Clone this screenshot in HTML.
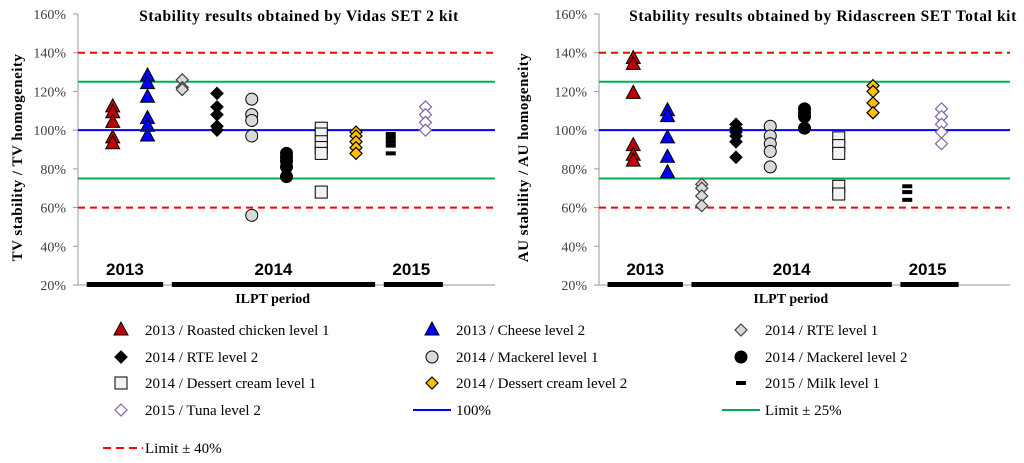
<!DOCTYPE html>
<html><head><meta charset="utf-8"><style>
body{margin:0;background:#fff;width:1024px;height:463px;overflow:hidden}
svg{display:block;font-family:"Liberation Serif",serif}
</style></head><body>
<svg id="svg" width="1024" height="463" viewBox="0 0 1024 463"></svg>
<script>
const categories=["2013 / Roasted chicken level 1","2013 / Cheese level 2","2014 / RTE level 1","2014 / RTE level 2","2014 / Mackerel level 1","2014 / Mackerel level 2","2014 / Dessert cream level 1","2014 / Dessert cream level 2","2015 / Milk level 1","2015 / Tuna level 2"];
const vidasValues=[[112,109,104,96,93],[128,124,117,106,102,97],[126,122,121],[119,112,108,102,100],[116,108,105,97,56],[88,86,84,81,76],[101,98,94,91,88,68],[99,97,94,91,88],[98,96,94,92,88],[112,108,104,100]];
const ridaValues=[[137,134,119,92,87,84],[110,107,96,86,78],[72,70,66,61],[103,101,99,97,94,86],[102,97,93,89,81],[111,109,107,101],[96,92,88,71,67],[123,120,114,109],[71,68,64],[111,107,103,99,93]];
const yTicks=[20,40,60,80,100,120,140,160];
const refLines=[{v:140,name:"limit-40-upper"},{v:60,name:"limit-40-lower"},{v:125,name:"limit-25-upper"},{v:75,name:"limit-25-lower"},{v:100,name:"line-100"}];
const NS="http://www.w3.org/2000/svg";
const svg=document.getElementById('svg');
function mk(tag,attrs,parent,text){const e=document.createElementNS(NS,tag);for(const k in attrs)e.setAttribute(k,attrs[k]);if(text!==undefined)e.textContent=text;(parent||svg).appendChild(e);return e;}
const styles=["triR","triB","diaG","diaK","cirG","cirK","sqW","diaY","dash","diaP"];
function marker(g,st,x,y){
 if(st==="triR"||st==="triB"){return mk('polygon',{points:`${x},${y-8} ${x-7},${y+5} ${x+7},${y+5}`,fill:st==="triR"?"#c00000":"#0000ff",stroke:"#000","stroke-width":1},g);}
 if(st==="cirG"||st==="cirK"){return mk('circle',{cx:x,cy:y,r:6,fill:st==="cirG"?"#d9d9d9":"#000",stroke:"#000","stroke-width":1},g);}
 if(st==="sqW"){return mk('rect',{x:x-6,y:y-6,width:12,height:12,fill:"#f2f2f2",stroke:"#000","stroke-width":1},g);}
 if(st==="dash"){return mk('rect',{x:x-5,y:y-2,width:10,height:4,fill:"#000"},g);}
 const f={diaG:"#d9d9d9",diaK:"#000",diaY:"#ffc000",diaP:"#fff"}[st];
 const s={diaG:"#404040",diaK:"#000",diaY:"#000",diaP:"#8064a2"}[st];
 return mk('polygon',{points:`${x},${y-6} ${x+6},${y} ${x},${y+6} ${x-6},${y}`,fill:f,stroke:s,"stroke-width":1.2},g);
}
function chart(o){
 const g=mk('g',{});
 
 
 const y=v=>o.y20-(v-20)/140*(o.y20-o.y160);
 const x=k=>o.x0+(o.x1-o.x0)/12*k;
 yTicks.forEach(t=>{const l=mk('text',{x:o.x0-12,y:y(t)+5,"text-anchor":"end","font-size":14,fill:"#404040"},g,t+"%");mk('line',{x1:o.x0-5,x2:o.x0,y1:y(t),y2:y(t),stroke:"#999"},g);});
 mk('line',{x1:o.x0,x2:o.x0,y1:o.y160,y2:o.y20,stroke:"#999"},g);
 mk('line',{x1:o.x0,x2:o.x1,y1:o.y20,y2:o.y20,stroke:"#999"},g);
 refLines.forEach(r=>{const c=r.v===100?"#0000ff":(r.v===125||r.v===75)?"#00b050":"#ff0000";const l=mk('line',{x1:o.x0,x2:o.x1,y1:y(r.v),y2:y(r.v),stroke:c,"stroke-width":2,"stroke-dasharray":(r.v===140||r.v===60)?"7,5":""},g);});
 o.values.forEach((vals,i)=>{vals.forEach(v=>{const m=marker(g,styles[i],x(i+1),y(v));});});
 const bars=[[0.25,2.45,"2013"],[2.7,8.55,"2014"],[8.8,10.5,"2015"]];
 bars.forEach(b=>{mk('rect',{x:x(b[0]),y:o.y20-3,width:x(b[1])-x(b[0]),height:5,fill:"#000"},g);const t=mk('text',{x:(x(b[0])+x(b[1]))/2+(b[2]==="2015"?-2:0),y:o.y20-10,"text-anchor":"middle","font-size":17,"font-weight":"bold","font-family":"Liberation Sans, sans-serif"},g,b[2]);});
 const ilpt=mk('text',{x:x(5.6),y:o.y20+18,"text-anchor":"middle","font-size":14,"font-weight":"bold"},g,"ILPT period");
 const ti=mk('text',{x:o.tx,y:21,"text-anchor":"middle","font-size":15.5,"font-weight":"bold","letter-spacing":"0.6"},g,o.title);
 const yt=mk('text',{x:0,y:0,transform:`translate(${o.ytx},${(o.y20+o.y160)/2+8}) rotate(-90)`,"text-anchor":"middle","font-size":15,"font-weight":"bold","letter-spacing":"0.5"},g,o.ytitle);
}
chart({name:"vidas-chart",values:vidasValues,x0:78,x1:495,y20:285,y160:14,tx:299,title:"Stability results obtained by Vidas SET 2 kit",ytitle:"TV stability / TV homogeneity",ytx:22});
chart({name:"ridascreen-chart",values:ridaValues,x0:599,x1:1010,y20:285,y160:14,tx:823,title:"Stability results obtained by Ridascreen SET Total kit",ytitle:"AU stability / AU homogeneity",ytx:528});
// legend
const lg=mk('g',{});


const legCols=[121,432,741];const legRows=[330,357,383,410,448];
const entries=categories.map((c,i)=>({label:c,st:styles[i]})).concat([{label:"100%",line:"#0000ff"},{label:"Limit ± 25%",line:"#00b050"},{label:"Limit ± 40%",line:"#ff0000",dash:true}]);
entries.forEach((e,i)=>{const cx=legCols[i%3],cy=legRows[Math.floor(i/3)];
 const eg=mk('g',{},lg);
 
 
 let tx=cx+24;
 if(e.line){
   if(e.dash) mk('line',{x1:cx-18,x2:cx+22,y1:cy,y2:cy,stroke:e.line,"stroke-width":2,"stroke-dasharray":"8,5"},eg);
   else mk('line',{x1:cx-19,x2:cx+19,y1:cy,y2:cy,stroke:e.line,"stroke-width":2},eg);
 }
 else marker(eg,e.st,cx,cy);
 mk('text',{x:tx,y:cy+5,"font-size":15,fill:"#000"},eg,e.label);
});
</script>
</body></html>
